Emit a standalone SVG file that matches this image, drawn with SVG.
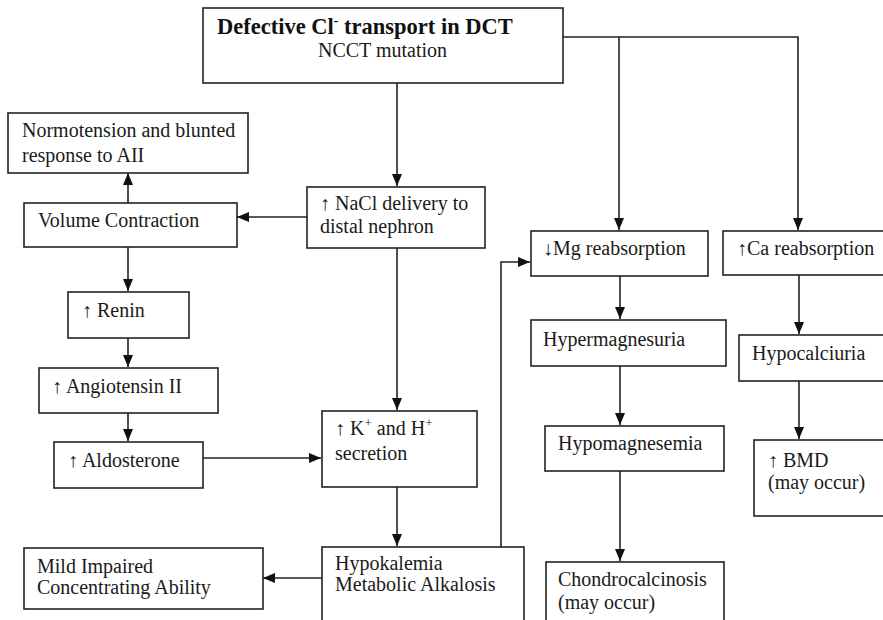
<svg xmlns="http://www.w3.org/2000/svg" width="883" height="620" viewBox="0 0 883 620">
<defs>
<marker id="ah" viewBox="0 0 12 10" refX="12" refY="5" markerWidth="12" markerHeight="10" markerUnits="userSpaceOnUse" orient="auto">
<path d="M0,0 L12,5 L0,10 Z" fill="#111"/>
</marker>
<style>
rect{fill:#fff;stroke:#222;stroke-width:1.6}
text{font-family:"Liberation Serif","Times New Roman",serif;font-size:20px;fill:#1a1a1a}
.t{font-weight:bold;font-size:22.5px;fill:#111}
#connectors path{fill:none;stroke:#222;stroke-width:1.6}
</style>
</defs>
<rect x="0" y="0" width="883" height="620" style="fill:#fff;stroke:none"/>
<g id="connectors">
<path d="M397,83 V186" marker-end="url(#ah)"/>
<path d="M563,37 H798 V230"  marker-end="url(#ah)"/>
<path d="M619,37 V230" marker-end="url(#ah)"/>
<path d="M307,217 H237" marker-end="url(#ah)"/>
<path d="M128,203 V173" marker-end="url(#ah)"/>
<path d="M128,247 V291" marker-end="url(#ah)"/>
<path d="M128,338 V367" marker-end="url(#ah)"/>
<path d="M128,413 V441" marker-end="url(#ah)"/>
<path d="M203,458 H321" marker-end="url(#ah)"/>
<path d="M397,248 V410" marker-end="url(#ah)"/>
<path d="M397,487 V546" marker-end="url(#ah)"/>
<path d="M322,578 H263" marker-end="url(#ah)"/>
<path d="M501,547 V262 H530" marker-end="url(#ah)"/>
<path d="M620,276 V319" marker-end="url(#ah)"/>
<path d="M620,366 V425" marker-end="url(#ah)"/>
<path d="M620,471 V561" marker-end="url(#ah)"/>
<path d="M799,275 V334" marker-end="url(#ah)"/>
<path d="M799,381 V439" marker-end="url(#ah)"/>
</g>
<g id="n-title">
<rect x="203" y="8" width="360" height="75"/>
<text class="t" x="217" y="34">Defective Cl<tspan font-size="14" dy="-9">-</tspan><tspan dy="9"> transport in DCT</tspan></text>
<text x="318" y="57">NCCT mutation</text>
</g>
<g id="n-normo">
<rect x="8" y="113" width="240" height="60"/>
<text x="22" y="137">Normotension and blunted</text>
<text x="22" y="162">response to AII</text>
</g>
<g id="n-volume">
<rect x="24" y="203" width="213" height="44"/>
<text x="38" y="227">Volume Contraction</text>
</g>
<g id="n-renin">
<rect x="68" y="292" width="121" height="46"/>
<text x="82" y="317">↑ Renin</text>
</g>
<g id="n-angio">
<rect x="39" y="368" width="179" height="45"/>
<text x="52" y="393">↑ Angiotensin II</text>
</g>
<g id="n-aldo">
<rect x="54" y="442" width="149" height="46"/>
<text x="68" y="467">↑ Aldosterone</text>
</g>
<g id="n-nacl">
<rect x="307" y="187" width="178" height="61"/>
<text x="320" y="210">↑ NaCl delivery to</text>
<text x="320" y="233">distal nephron</text>
</g>
<g id="n-kh">
<rect x="322" y="411" width="155" height="76"/>
<text x="335" y="435">↑ K<tspan font-size="13" dy="-8">+</tspan><tspan dy="8"> and H</tspan><tspan font-size="13" dy="-8">+</tspan></text>
<text x="335" y="460">secretion</text>
</g>
<g id="n-hypok">
<rect x="322" y="547" width="202" height="80"/>
<text x="335" y="570">Hypokalemia</text>
<text x="335" y="591">Metabolic Alkalosis</text>
</g>
<g id="n-mild">
<rect x="24" y="548" width="239" height="61"/>
<text x="37" y="573">Mild Impaired</text>
<text x="37" y="594">Concentrating Ability</text>
</g>
<g id="n-mg">
<rect x="531" y="231" width="177" height="45"/>
<text x="543" y="255">↓Mg reabsorption</text>
</g>
<g id="n-hypermg">
<rect x="531" y="320" width="195" height="46"/>
<text x="543" y="346">Hypermagnesuria</text>
</g>
<g id="n-hypomg">
<rect x="545" y="426" width="179" height="45"/>
<text x="558" y="450">Hypomagnesemia</text>
</g>
<g id="n-chondro">
<rect x="546" y="562" width="178" height="70"/>
<text x="558" y="586">Chondrocalcinosis</text>
<text x="558" y="609">(may occur)</text>
</g>
<g id="n-ca">
<rect x="723" y="231" width="170" height="44"/>
<text x="737" y="255">↑Ca reabsorption</text>
</g>
<g id="n-hypoca">
<rect x="739" y="335" width="154" height="46"/>
<text x="752" y="360">Hypocalciuria</text>
</g>
<g id="n-bmd">
<rect x="754" y="440" width="139" height="76"/>
<text x="768" y="467">↑ BMD</text>
<text x="768" y="489">(may occur)</text>
</g>
</svg>
